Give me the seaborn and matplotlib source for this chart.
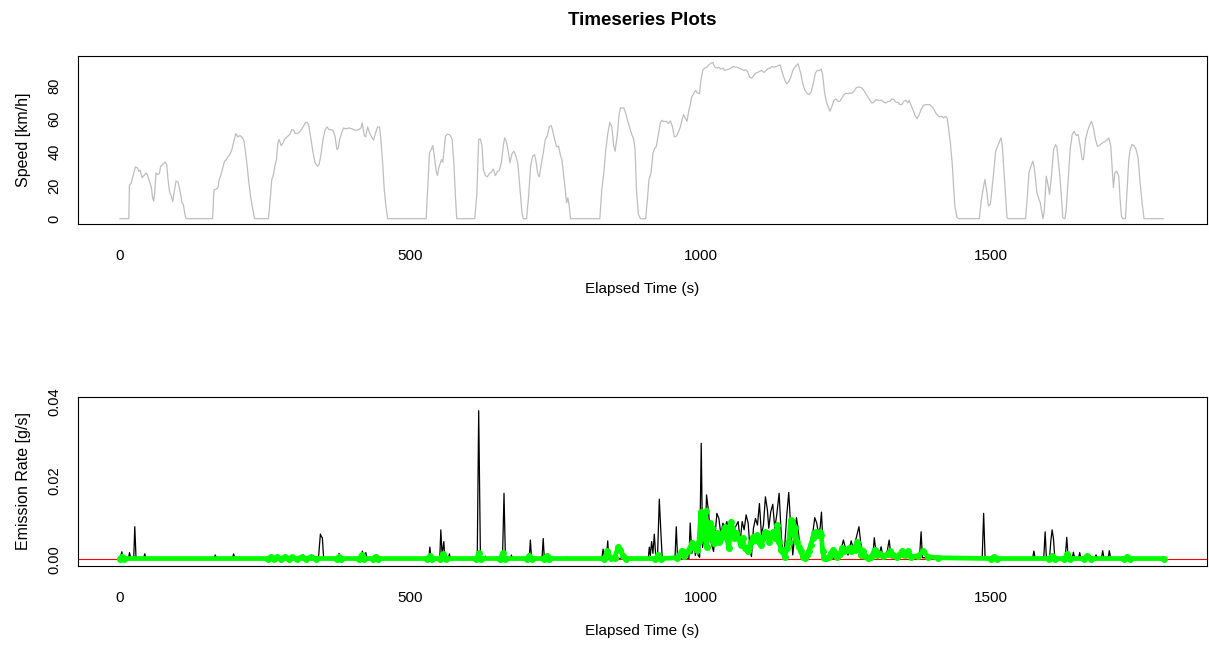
import matplotlib
matplotlib.use("Agg")
import matplotlib.pyplot as plt
import seaborn as sns
import pandas as pd

# speed trace: (elapsed s, km/h)
speed_trace = [
    (0, 0), (15.5, 0), (16.6, 20.2), (19.5, 21.2), (21.2, 23.6), (23.5, 26.5), (26.9, 31.1), (30.4, 30.5),
    (32.6, 28.5), (34.9, 29.1), (38.4, 24.6), (41.8, 26.1), (45.2, 27.5), (47.5, 26.5), (51.0, 22.6),
    (54.4, 18.6), (56.7, 12.0), (58.4, 10.6), (60.1, 15.6), (62.4, 27.5), (64.7, 26.5), (68.2, 27.1),
    (70.4, 31.5), (73.9, 32.5), (77.9, 34.1), (80.8, 32.5), (83.0, 23.6), (85.9, 15.6), (88.8, 13.6),
    (91.1, 10.2), (93.9, 16.6), (96.8, 22.6), (100.2, 22.0), (102.5, 18.6), (105.4, 13.6), (107.1, 9.6),
    (109.4, 8.6), (111.7, 3.6), (114.0, 0),
    (159.8, 0), (162.1, 17.2), (166.7, 18.0), (169.0, 18.6), (171.2, 23.6), (173.5, 25.5), (175.8, 28.5),
    (178.1, 31.5), (180.4, 34.5), (182.7, 35.1), (186.1, 37.1), (189.6, 38.5), (193.0, 41.5), (196.4, 46.5),
    (199.9, 51.1), (203.3, 49.1), (206.8, 49.9), (210.2, 49.1), (213.6, 47.1), (215.9, 41.5), (219.4, 31.5),
    (221.6, 23.6), (225.1, 13.6), (228.5, 6.6), (232.0, 0),
    (256.0, 0), (259.5, 13.6), (261.7, 23.6), (264.0, 25.5), (267.5, 32.5), (269.8, 35.5), (272.0, 45.1),
    (274.3, 47.5), (277.8, 43.9), (281.2, 45.5), (283.5, 47.5), (285.8, 48.5), (289.2, 49.5), (292.7, 50.5),
    (296.1, 53.5), (299.5, 53.1), (301.8, 51.1), (305.3, 51.1), (308.7, 51.9), (312.1, 53.1), (316.7, 55.9),
    (320.2, 57.9), (323.6, 57.5), (325.9, 55.1), (329.3, 47.5), (332.8, 39.5), (336.2, 33.5), (340.8, 31.5),
    (343.1, 32.5), (346.5, 38.5), (349.9, 47.5), (353.4, 53.1), (356.8, 55.1), (360.2, 53.5), (363.7, 53.5),
    (367.1, 53.1), (370.6, 49.5), (374.0, 41.5), (376.3, 42.5), (378.6, 47.5), (382.0, 51.5), (385.5, 54.5),
    (388.9, 53.9), (394.6, 54.5), (400.3, 53.9), (406.1, 53.1), (411.8, 53.5), (415.2, 54.5), (417.5, 57.5),
    (421.0, 49.9), (423.3, 49.1), (426.7, 55.1), (430.1, 51.5), (433.6, 49.1), (437.0, 47.1), (440.4, 51.5),
    (443.9, 55.1), (447.3, 55.1), (449.6, 47.5), (453.0, 31.5), (455.3, 17.6), (457.6, 9.6), (461.1, 0),
    (527.5, 0), (533.3, 39.5), (536.2, 41.5), (539.0, 43.9), (541.3, 38.5), (544.7, 28.5), (547.0, 25.9),
    (549.3, 30.5), (551.6, 33.1), (553.9, 35.5), (556.2, 33.9), (558.5, 41.5), (560.8, 49.5), (564.2, 50.7),
    (567.6, 50.5), (569.9, 49.5), (572.2, 47.5), (575.6, 31.5), (577.9, 13.6), (580.2, 0),
    (611.2, 0), (614.6, 13.6), (618.0, 47.5), (620.9, 47.9), (623.8, 43.5), (626.1, 29.5), (629.5, 25.9),
    (632.9, 25.1), (636.4, 27.1), (639.8, 27.9), (643.2, 29.9), (646.7, 25.9), (650.1, 28.3), (653.5, 29.1),
    (657.0, 33.5), (660.4, 43.9), (662.7, 48.5), (665.0, 47.1), (668.4, 41.5), (671.9, 33.5), (675.3, 39.1),
    (678.7, 40.5), (682.2, 37.5), (685.6, 32.5), (689.1, 17.6), (692.5, 3.6), (694.8, 0),
    (700.5, 0), (704.0, 13.6), (707.4, 31.5), (710.8, 37.5), (714.3, 38.5), (716.6, 34.5), (720.0, 26.5),
    (722.3, 25.1), (725.7, 32.5), (729.2, 39.5), (732.6, 47.5), (736.0, 49.5), (739.5, 55.1), (742.9, 55.9),
    (745.2, 53.1), (748.6, 47.9), (752.1, 43.1), (755.5, 43.5), (758.9, 37.9), (761.2, 35.5), (763.5, 28.5),
    (765.8, 21.6), (769.3, 9.6), (771.6, 12.6), (773.9, 7.6), (776.2, 0),
    (826.6, 0), (830.0, 17.6), (833.5, 27.5), (836.9, 41.5), (840.3, 51.1), (843.8, 57.9), (847.2, 55.1),
    (850.6, 43.5), (852.9, 40.5), (856.4, 49.5), (859.8, 62.5), (862.1, 66.5), (867.8, 66.5), (871.3, 63.1),
    (874.7, 58.5), (878.2, 54.5), (881.6, 50.5), (885.0, 47.5), (887.3, 41.5), (889.6, 17.6), (893.0, 2.6),
    (896.5, 0),
    (905.6, 0), (909.0, 13.6), (911.3, 23.6), (914.8, 27.5), (918.2, 39.5), (920.5, 41.9), (923.9, 43.5),
    (927.4, 50.5), (930.8, 57.5), (933.1, 59.1), (936.5, 58.3), (941.1, 58.5), (944.6, 57.1), (948.0, 58.7),
    (951.4, 55.5), (954.9, 49.1), (958.3, 49.5), (961.8, 51.9), (965.2, 55.1), (967.5, 58.5), (970.9, 62.5),
    (974.4, 59.9), (976.6, 58.5), (980.1, 65.5), (982.4, 68.5), (984.7, 73.1), (988.1, 75.0), (991.5, 77.0),
    (995.0, 75.4), (998.4, 75.0), (1000.7, 83.4), (1004.1, 89.4), (1007.5, 90.4), (1011.0, 91.0),
    (1014.4, 92.4), (1017.9, 93.4), (1021.3, 93.8), (1024.7, 91.0), (1028.2, 90.4), (1031.6, 91.0),
    (1035.0, 89.8), (1038.5, 90.4), (1041.9, 89.0), (1045.4, 89.4), (1048.8, 89.8), (1052.2, 90.4),
    (1055.7, 91.4), (1059.1, 91.0), (1062.5, 91.0), (1066.0, 90.4), (1070.6, 89.8), (1074.0, 89.0),
    (1077.5, 89.4), (1080.9, 88.4), (1084.3, 85.0), (1087.8, 84.4), (1091.2, 85.8), (1094.6, 87.4),
    (1098.1, 87.8), (1101.5, 88.4), (1105.0, 89.0), (1109.5, 87.8), (1113.0, 89.0), (1116.4, 90.2),
    (1119.8, 90.4), (1123.3, 91.4), (1126.7, 91.0), (1130.2, 91.4), (1133.6, 91.8), (1137.0, 92.4),
    (1139.3, 89.4), (1142.8, 85.4), (1146.2, 82.4), (1148.5, 81.0), (1151.9, 82.4), (1155.4, 85.0),
    (1158.8, 89.0), (1162.3, 91.0), (1165.7, 92.2), (1168.0, 93.0), (1172.4, 87.4), (1175.9, 81.4),
    (1179.3, 77.4), (1183.9, 75.0), (1187.4, 74.5), (1190.8, 76.4), (1194.2, 81.4), (1197.7, 87.4),
    (1201.1, 89.0), (1204.5, 89.0), (1208.0, 89.8), (1210.3, 86.4), (1213.7, 75.4), (1217.2, 69.5),
    (1220.6, 66.5), (1222.9, 64.5), (1226.3, 67.5), (1229.8, 71.1), (1233.2, 71.9), (1236.6, 70.5),
    (1240.1, 70.5), (1243.5, 72.5), (1246.9, 74.5), (1250.4, 75.4), (1253.8, 75.0), (1257.3, 75.4),
    (1260.7, 75.4), (1264.1, 76.4), (1267.6, 78.4), (1271.0, 79.0), (1274.5, 79.0), (1277.9, 78.4),
    (1281.3, 77.0), (1284.8, 75.0), (1288.2, 73.1), (1291.6, 71.1), (1295.1, 69.5), (1298.5, 69.9),
    (1301.9, 71.5), (1305.4, 71.1), (1308.8, 71.1), (1312.3, 71.1), (1315.7, 69.9), (1319.1, 69.5),
    (1322.6, 70.3), (1326.0, 70.5), (1329.4, 71.9), (1332.9, 71.5), (1336.3, 69.9), (1339.7, 69.9),
    (1343.2, 68.5), (1346.6, 68.5), (1350.1, 70.5), (1353.5, 71.1), (1356.9, 69.5), (1359.2, 71.1),
    (1362.7, 67.9), (1366.1, 65.1), (1369.5, 61.9), (1373.0, 59.9), (1376.4, 62.5), (1379.8, 65.5),
    (1383.3, 67.9), (1386.7, 68.5), (1391.3, 68.5), (1394.7, 68.5), (1398.2, 67.5), (1401.6, 65.9),
    (1405.0, 63.5), (1408.5, 61.9), (1411.9, 61.1), (1415.3, 61.5), (1418.8, 60.5), (1422.2, 61.5),
    (1424.5, 60.5), (1426.8, 55.1), (1430.2, 45.5), (1433.7, 31.5), (1436.0, 17.6), (1438.3, 6.6),
    (1441.7, 0.6), (1445.2, 0),
    (1480.1, 0), (1482.9, 9.6), (1486.4, 17.6), (1489.8, 23.6), (1493.2, 15.6), (1495.5, 7.6), (1499.0, 8.6),
    (1502.4, 19.6), (1505.8, 31.5), (1508.1, 40.5), (1511.6, 43.5), (1515.0, 46.5), (1517.3, 48.5),
    (1519.6, 43.9), (1521.9, 31.5), (1525.4, 11.6), (1527.7, 0.6), (1530.0, 0),
    (1559.7, 0), (1563.2, 15.6), (1565.5, 27.5), (1568.9, 31.5), (1572.4, 34.5), (1574.6, 30.5),
    (1576.9, 23.6), (1579.2, 15.6), (1582.7, 11.6), (1585.0, 9.6), (1587.3, 4.6), (1589.6, 0), (1591.9, 4.6),
    (1595.3, 25.5), (1598.7, 19.6), (1601.0, 14.6), (1604.5, 26.5), (1607.9, 41.5), (1611.3, 44.5),
    (1613.6, 43.1), (1617.1, 31.5), (1620.5, 17.6), (1623.9, 0.6), (1627.4, 0), (1629.7, 5.6),
    (1633.1, 23.6), (1636.5, 41.5), (1640.0, 50.5), (1643.4, 52.5), (1646.8, 49.9), (1650.3, 50.5),
    (1653.7, 43.5), (1657.1, 35.5), (1659.4, 35.5), (1662.9, 47.5), (1666.3, 52.5), (1669.8, 55.9),
    (1673.2, 58.5), (1676.6, 54.5), (1680.1, 47.5), (1683.5, 43.5), (1686.9, 43.9), (1690.4, 45.1),
    (1693.8, 45.9), (1697.2, 46.5), (1700.7, 47.5), (1703.0, 48.5), (1706.4, 43.5), (1708.7, 31.5),
    (1711.0, 18.6), (1713.3, 27.5), (1716.7, 28.5), (1720.2, 25.5), (1722.5, 11.6), (1724.8, 1.6),
    (1727.0, 0), (1731.6, 0), (1733.9, 13.6), (1737.4, 35.5), (1739.7, 41.5), (1743.1, 44.5),
    (1746.6, 43.9), (1750.0, 41.5), (1753.4, 36.5), (1756.9, 21.6), (1760.3, 9.6), (1763.7, 0), (1797.0, 0),
]

# measured emission rate (g/s), black line
measured_trace = [
    (0, 0.0002), (3.5, 0.0019), (6, 0.0002), (15, 0.0002), (16.7, 0.0017), (19, 0.0002), (24, 0.0002),
    (25.8, 0.0083), (28, 0.0002), (41, 0.0002), (43, 0.0014), (45, 0.0002), (162, 0.0002), (164.4, 0.0011),
    (167, 0.0002), (194, 0.0002), (196, 0.0014), (198, 0.0002), (283, 0.0002), (284.7, 0.0010), (287, 0.0002),
    (342, 0.0002), (345.4, 0.0064), (347, 0.0058), (348.8, 0.0055), (351, 0.0002), (376, 0.0002),
    (377.5, 0.0015), (379, 0.0002), (416, 0.0002), (417.6, 0.0021), (420, 0.0004), (423.6, 0.0017),
    (426, 0.0002), (532, 0.0002), (533.9, 0.0031), (536, 0.0002), (551, 0.0002), (552.8, 0.0075),
    (555, 0.0010), (557.9, 0.0045), (560, 0.0002), (566, 0.0002), (567.6, 0.0014), (569, 0.0002),
    (615.5, 0.0002), (618, 0.0378), (621, 0.0002), (628, 0.0002), (629.4, 0.0008), (631, 0.0002),
    (659, 0.0002), (661.6, 0.0168), (664, 0.0002), (673, 0.0002), (674.2, 0.0011), (676, 0.0002),
    (705, 0.0002), (707, 0.0049), (709, 0.0002), (727, 0.0002), (729.1, 0.0053), (731, 0.0002),
    (769, 0.0002), (770.5, 0.0006), (772, 0.0002), (830, 0.0002), (832.2, 0.0026), (834, 0.0003),
    (838, 0.0003), (840.2, 0.0047), (842, 0.0002), (910, 0.0002), (911.8, 0.0031), (913.5, 0.0010),
    (915.8, 0.0045), (918, 0.0015), (920.4, 0.0064), (923, 0.0005), (926, 0.0010), (929, 0.0153),
    (932, 0.0060), (934, 0.0005), (956, 0.0002), (958.2, 0.0083), (960.5, 0.0002), (980, 0.0002),
    (982.2, 0.0092), (985, 0.0015), (989, 0.0045), (991, 0.0010), (993.6, 0.0028), (996, 0.0010),
    (998.5, 0.0005), (1001.2, 0.0295), (1003.5, 0.0030), (1005.8, 0.0062), (1008, 0.0040), (1010.3, 0.0164),
    (1013.8, 0.0121), (1017.8, 0.0045), (1022.4, 0.0020), (1025, 0.0060), (1028.1, 0.0117), (1031.6, 0.0104),
    (1035, 0.0062), (1038.5, 0.0092), (1041.9, 0.0079), (1045.3, 0.0096), (1048.8, 0.0062), (1053.4, 0.0100),
    (1056.8, 0.0062), (1060.3, 0.0083), (1064.8, 0.0096), (1068.3, 0.0045), (1071.7, 0.0096), (1075.1, 0.0075),
    (1078.5, 0.0113), (1082.0, 0.0092), (1085.4, 0.0020), (1087.7, 0.0007), (1091.1, 0.0079), (1094.6, 0.0104),
    (1098.0, 0.0087), (1101.4, 0.0142), (1104.9, 0.0062), (1108.3, 0.0087), (1111.7, 0.0159), (1115.2, 0.0125),
    (1117.5, 0.0079), (1120.9, 0.0121), (1124.4, 0.0140), (1127.8, 0.0079), (1131.2, 0.0113), (1135.3, 0.0168),
    (1139.3, 0.0053), (1142.7, 0.0011), (1145, 0.0036), (1148.5, 0.0113), (1151.9, 0.0170), (1155.4, 0.0079),
    (1158.8, 0.0011), (1162.2, 0.0062), (1165.1, 0.0106), (1168.0, 0.0079), (1171.4, 0.0024), (1174.8, 0.0003),
    (1182.3, 0.0003), (1188.1, 0.0020), (1192.1, 0.0053), (1196.7, 0.0106), (1200.1, 0.0092), (1202.4, 0.0070),
    (1205.9, 0.0079), (1208.2, 0.0120), (1210.5, 0.0053), (1212.8, 0.0003), (1236.9, 0.0003), (1242.6, 0.0028),
    (1246.0, 0.0049), (1249.5, 0.0028), (1254, 0.0011), (1259.4, 0.0047), (1262.8, 0.0028), (1266.5, 0.0045),
    (1269.9, 0.0066), (1272.8, 0.0083), (1275.6, 0.0045), (1279, 0.0011), (1282, 0.0003), (1296.2, 0.0003),
    (1299.2, 0.0055), (1302.7, 0.0011), (1307.3, 0.0011), (1311.0, 0.0032), (1314.4, 0.0004), (1321.4, 0.0020),
    (1324.8, 0.0049), (1328.2, 0.0004), (1344, 0.0004), (1346.6, 0.0024), (1349, 0.0004), (1357, 0.0011),
    (1359.2, 0.0021), (1361, 0.0004), (1377, 0.0004), (1379.8, 0.0070), (1382, 0.0004), (1485, 0.0004),
    (1487.5, 0.0117), (1490, 0.0004), (1572, 0.0004), (1574, 0.0021), (1576, 0.0004), (1591, 0.0004),
    (1593.4, 0.0070), (1595.5, 0.0004), (1601, 0.0004), (1603.1, 0.0045), (1605.4, 0.0075), (1607.7, 0.0053),
    (1610, 0.0004), (1628, 0.0004), (1630.6, 0.0056), (1633, 0.0004), (1640, 0.0004), (1642.1, 0.0018),
    (1644, 0.0004), (1651, 0.0004), (1652.9, 0.0017), (1655, 0.0004), (1679, 0.0004), (1681, 0.0011),
    (1683, 0.0004), (1690.5, 0.0004), (1692.5, 0.0022), (1694.5, 0.0004), (1702, 0.0004), (1703.9, 0.0022),
    (1706, 0.0004), (1736, 0.0004), (1737.7, 0.0009), (1739.5, 0.0004), (1797, 0.0004),
]

# predicted emission rate (g/s), green points
predicted_trace = [
    (0, 0.0002), (3.5, 0.0007), (8, 0.0002), (255, 0.0002), (260, 0.0006), (266, 0.0002), (271.5, 0.0005),
    (278, 0.0002), (285, 0.0006), (291, 0.0002), (297, 0.0005), (305, 0.0002), (314, 0.0005), (321, 0.0002),
    (329, 0.0005), (337, 0.0002), (374, 0.0002), (377.5, 0.0007), (381, 0.0002), (412, 0.0002),
    (416.4, 0.0011), (421, 0.0002), (436, 0.0002), (440.4, 0.0007), (445, 0.0002), (529, 0.0002),
    (533.8, 0.0008), (538, 0.0002), (552, 0.0002), (556.7, 0.0013), (561, 0.0002), (614, 0.0002),
    (618.1, 0.0015), (622, 0.0002), (655, 0.0002), (659.3, 0.0015), (663, 0.0002), (701, 0.0002),
    (705, 0.0009), (709, 0.0002), (731, 0.0002), (735.4, 0.0009), (739, 0.0002), (834, 0.0002),
    (839.7, 0.0021), (845, 0.0004), (852, 0.0004), (858.6, 0.0032), (861.4, 0.0024), (867.2, 0.0009),
    (872, 0.0002), (922, 0.0002), (927.3, 0.0011), (932, 0.0002), (960, 0.0004), (967.4, 0.0022),
    (972, 0.0008), (977.7, 0.0020), (982.3, 0.0028), (985.7, 0.0042), (989.2, 0.0032), (993.2, 0.0024),
    (997.2, 0.0045), (1000.6, 0.0121), (1001.7, 0.0075), (1002.9, 0.0106), (1005.2, 0.0053), (1006.3, 0.0077),
    (1008.6, 0.0123), (1010.3, 0.0032), (1013.2, 0.0062), (1016.1, 0.0092), (1017.8, 0.0053), (1018.9, 0.0079),
    (1022.4, 0.0041), (1024.7, 0.0062), (1028.1, 0.0066), (1031.6, 0.0045), (1035.0, 0.0053), (1038.5, 0.0070),
    (1041.9, 0.0081), (1045.3, 0.0053), (1048.8, 0.0028), (1052.2, 0.0096), (1054.5, 0.0079), (1058.0, 0.0053),
    (1061.4, 0.0066), (1064.8, 0.0053), (1069.4, 0.0036), (1072.8, 0.0053), (1076.3, 0.0028), (1080.9, 0.0020),
    (1084.2, 0.0032), (1087.7, 0.0045), (1091.1, 0.0058), (1094.6, 0.0049), (1098.0, 0.0062), (1101.4, 0.0045),
    (1104.9, 0.0036), (1108.3, 0.0053), (1111.7, 0.0070), (1115.2, 0.0066), (1118.6, 0.0045), (1122.0, 0.0062),
    (1125.5, 0.0070), (1128.9, 0.0053), (1132.3, 0.0087), (1135.8, 0.0045), (1138.1, 0.0024), (1141.5, 0.0018),
    (1145.0, 0.0007), (1148.4, 0.0028), (1151.8, 0.0045), (1155.3, 0.0100), (1157.6, 0.0092), (1161.0, 0.0062),
    (1163.3, 0.0079), (1165.6, 0.0045), (1169.0, 0.0032), (1172.5, 0.0020), (1175.9, 0.0007), (1179.3, 0.0004),
    (1182.8, 0.0011), (1186.2, 0.0020), (1189.6, 0.0036), (1193.1, 0.0053), (1195.4, 0.0066), (1198.8, 0.0070),
    (1202.2, 0.0062), (1205.7, 0.0069), (1208.0, 0.0062), (1210.3, 0.0020), (1212.6, 0.0004), (1216.1, 0.0003),
    (1220.6, 0.0007), (1225.2, 0.0015), (1228.7, 0.0024), (1232.1, 0.0015), (1235.5, 0.0007), (1240.1, 0.0013),
    (1243.6, 0.0028), (1247.0, 0.0020), (1251.6, 0.0024), (1255.0, 0.0028), (1258.5, 0.0020), (1261.9, 0.0028),
    (1266.5, 0.0024), (1269.9, 0.0045), (1273.4, 0.0028), (1276.8, 0.0011), (1280.2, 0.0020), (1283.7, 0.0009),
    (1288.3, 0.0004), (1294.0, 0.0007), (1299.8, 0.0024), (1304.4, 0.0011), (1309.0, 0.0013), (1314.7, 0.0009),
    (1322.7, 0.0013), (1326.2, 0.0020), (1331.9, 0.0011), (1337.6, 0.0007), (1343.4, 0.0013), (1346.8, 0.0020),
    (1351.4, 0.0011), (1357.1, 0.0021), (1362.8, 0.0007), (1374.3, 0.0009), (1383.5, 0.0021), (1391.5, 0.0007),
    (1408.7, 0.0004), (1500, 0.0002), (1505.8, 0.0007), (1511, 0.0002), (1600, 0.0002), (1605.4, 0.0009),
    (1610, 0.0002), (1626, 0.0002), (1631.8, 0.0013), (1637, 0.0002), (1660, 0.0002), (1666.1, 0.0009),
    (1672, 0.0002), (1730, 0.0002), (1735.2, 0.0007), (1740, 0.0002), (1797.8, 0.0002),
]

speed_ticks = [0, 20, 40, 60, 80]
rate_ticks = [0, 0.01, 0.02, 0.03, 0.04]
rate_labels = ["0.00", "", "0.02", "", "0.04"]
time_ticks = [0, 500, 1000, 1500]

speed_df = pd.DataFrame(speed_trace, columns=["t", "speed"])
meas_df = pd.DataFrame(measured_trace, columns=["t", "rate"])
pred_df = pd.DataFrame(predicted_trace, columns=["t", "rate"])

sns.set_theme(style="white")
plt.rcParams["font.family"] = ["Liberation Sans", "DejaVu Sans"]
plt.rcParams["text.color"] = "black"
plt.rcParams["axes.labelcolor"] = "black"
plt.rcParams["axes.edgecolor"] = "black"
plt.rcParams["axes.linewidth"] = 0.8

fig = plt.figure(figsize=(12.09, 6.45), dpi=100)
ax1 = fig.add_axes([0.0645, 0.6527, 0.9338, 0.2605])
ax2 = fig.add_axes([0.0645, 0.1225, 0.9338, 0.2620])

# top: speed
sns.lineplot(data=speed_df, x="t", y="speed", ax=ax1, color="#bebebe",
             linewidth=0.9, sort=False, estimator=None)
ax1.set_xlim(-72, 1872)
ax1.set_ylim(-3.2, 97.7)
ax1.set_yticks(speed_ticks)
ax1.set_ylabel("Speed [km/h]", fontsize=11.5, labelpad=12)

# bottom: emission rate
sns.lineplot(data=meas_df, x="t", y="rate", ax=ax2, color="black",
             linewidth=0.9, sort=False, estimator=None, zorder=2)
ax2.axhline(0, color="red", linewidth=0.8, zorder=2.5)
sns.lineplot(data=pred_df, x="t", y="rate", ax=ax2, color="#00ff00",
             linewidth=3.4, marker="o", markersize=5, markeredgewidth=0,
             sort=False, estimator=None, zorder=3)
ax2.set_xlim(-72, 1872)
ax2.set_ylim(-0.0017, 0.0413)
ax2.set_yticks(rate_ticks)
ax2.set_yticklabels(rate_labels)
ax2.set_ylabel("Emission Rate [g/s]", fontsize=11.5, labelpad=12)

for ax in (ax1, ax2):
    ax.set_xticks(time_ticks)
    ax.set_xlabel("Elapsed Time (s)", fontsize=11, labelpad=14)
    ax.tick_params(axis="both", which="both", direction="out", length=7, width=0.8,
                   color="black", labelcolor="black")
    ax.tick_params(axis="x", pad=11, labelsize=11)
    ax.tick_params(axis="y", pad=5, labelsize=10.5)
    for lab in ax.get_yticklabels():
        lab.set_rotation(90)
        lab.set_va("center")
    for sp in ax.spines.values():
        sp.set_visible(True)
        sp.set_color("black")

fig.text(0.5315, 0.968, "Timeseries Plots", ha="center", va="center",
         fontsize=13.5, fontweight="bold")

fig.savefig("out.png", dpi=100)
